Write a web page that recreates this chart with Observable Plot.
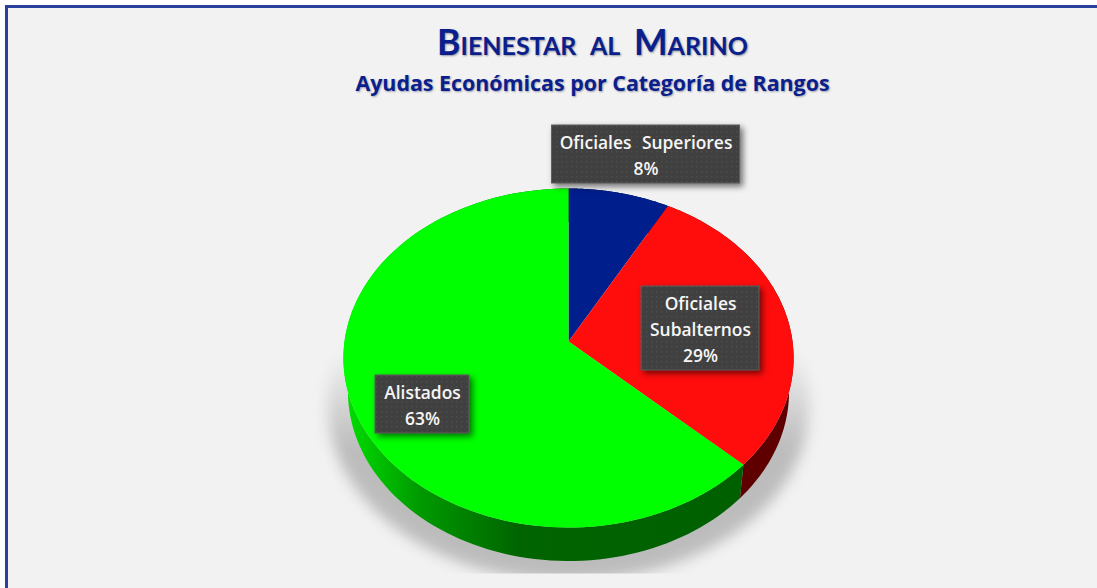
<!DOCTYPE html>
<html lang="es">
<head>
<meta charset="utf-8">
<script src="https://cdn.jsdelivr.net/npm/d3@7"></script>
<script src="https://cdn.jsdelivr.net/npm/@observablehq/plot@0.6"></script>
<style>
  html, body { margin: 0; padding: 0; background: #fff; }
  #page { position: relative; width: 1097px; height: 588px; overflow: hidden; }
  #panel { position: absolute; left: 5px; top: 5px; width: 1100px; height: 600px; box-sizing: border-box;
           background: #f2f2f2; border: 3px solid #2b3f9f; }
  #chart { position: absolute; left: 0; top: 0; }
  #chart svg { background: transparent; display: block; }
  .title { position: absolute; left: 0; width: 1185px; text-align: center; color: #0b1f8c; white-space: nowrap; }
  #t1 { top: 22px; font: 700 35.6px/40px Lato, sans-serif; font-variant: small-caps; word-spacing: 5px;
        text-shadow: 1px 1px 2px rgba(0,0,40,.4); }
  #t2 { top: 69px; font: 700 21.4px/28px "Open Sans", sans-serif; text-shadow: 1px 1px 2px rgba(0,0,40,.35); }
</style>
</head>
<body>
<div id="page">
  <div id="panel"></div>
  <div class="title" id="t1">Bienestar al Marino</div>
  <div class="title" id="t2">Ayudas Económicas por Categoría de Rangos</div>
  <div id="chart"></div>
</div>
<script>
// Data
const categories = ["Oficiales Superiores", "Oficiales Subalternos", "Alistados"];
const shares = [8, 29, 63];
const labelLines = ["Oficiales Superiores\n8%", "Oficiales\nSubalternos\n29%", "Alistados\n63%"];

// Styles
const topColors = ["#001e8c", "#ff0d0d", "#00ff00"];
const wallColors = ["#000f46", "#5e0000", "url(#wallGreen)"];

// Layout: pie view (perspective of a flat disc), in pixels from the pie's apex
const view = { R: 224, S: 167.9, k: 0.0973, depth: 33.5, bottomScale: 0.98 };
const labelBoxes = [
  { cx: 77.5, cy: -187, w: 188, h: 58 },
  { cx: 132, cy: -13, w: 118, h: 84 },
  { cx: -146, cy: 63, w: 94, h: 58 }
];

function project(angleDeg, radius = 1) {
  const a = angleDeg * Math.PI / 180;
  const u = radius * Math.sin(a), v = -radius * Math.cos(a);
  const d = 1 - view.k * v;
  return [view.R * u / d, view.S * v / d];
}
const total = d3.sum(shares);
let acc = 0;
const spans = shares.map((s, i) => {
  const start = acc / total * 360;
  acc += s;
  return { name: categories[i], start, end: acc / total * 360 };
});
const arcAngles = (a, b) => d3.range(0, 121).map(i => a + (b - a) * i / 120);

const faces = spans.flatMap(s => {
  const rim = arcAngles(s.start, s.end).map(t => project(t));
  return [[0, 0], ...rim].map(([x, y]) => ({ name: s.name, x, y }));
});
const walls = spans.map(s => {
  const top = arcAngles(s.start, s.end).map(t => project(t));
  const bottom = top.slice().reverse().map(([x, y]) => [x * view.bottomScale, y + view.depth]);
  return [...top, ...bottom].map(([x, y]) => ({ name: s.name, x, y }));
});
const shadowRing = arcAngles(0, 360).map(t => {
  const [x, y] = project(t);
  return { x: x * 1.07, y: y * 1.03 + 48 };
});

const defs = () => {
  const g = document.createElementNS("http://www.w3.org/2000/svg", "g");
  g.innerHTML = `<defs>
    <linearGradient id="wallGreen" x1="0" x2="1" y1="0" y2="0">
      <stop offset="0" stop-color="#00e000"/><stop offset=".19" stop-color="#009a00"/>
      <stop offset=".31" stop-color="#008000"/><stop offset=".44" stop-color="#006400"/>
      <stop offset="1" stop-color="#006000"/>
    </linearGradient>
    <linearGradient id="shadowFade" x1="0" x2="0" y1="0" y2="1">
      <stop offset=".34" stop-color="#bcbcbc" stop-opacity="0"/>
      <stop offset=".62" stop-color="#bcbcbc" stop-opacity="1"/>
      <stop offset="1" stop-color="#bcbcbc" stop-opacity="1"/>
    </linearGradient>
    <clipPath id="shadowClip"><rect x="0" y="0" width="1097" height="573"/></clipPath>
    <pattern id="dots" width="5" height="5" patternUnits="userSpaceOnUse">
      <rect width="5" height="5" fill="#404040"/><rect x="1" y="1" width="1.4" height="1.4" fill="#4e4e4e"/>
    </pattern>
  </defs>`;
  return g;
};
const withStyle = (filter, clip, wordSpacing) => (index, scales, values, dims, ctx, next) => {
  const g = next(index, scales, values, dims, ctx);
  if (filter) g.style.filter = filter;
  if (clip) g.setAttribute("clip-path", clip);
  if (wordSpacing) g.style.wordSpacing = wordSpacing;
  return g;
};

const plot = Plot.plot({
  width: 1097, height: 588,
  margin: 0,
  x: { domain: [-568, 529], range: [0, 1097], axis: null },
  y: { domain: [-341, 247], range: [0, 588], axis: null },
  color: { domain: categories, range: topColors },
  style: { background: "transparent", overflow: "visible" },
  marks: [
    defs,
    Plot.line(shadowRing, { x: "x", y: "y", fill: "url(#shadowFade)", stroke: "none",
      render: withStyle("blur(7px)", "url(#shadowClip)") }),
    ...walls.map((w, i) => Plot.line(w, { x: "x", y: "y", fill: wallColors[i], stroke: "none" })),
    Plot.line(faces, { x: "x", y: "y", z: "name", fill: "name", stroke: "none" }),
    Plot.rect(labelBoxes, {
      x1: d => d.cx - d.w / 2, x2: d => d.cx + d.w / 2,
      y1: d => d.cy - d.h / 2, y2: d => d.cy + d.h / 2,
      fill: "url(#dots)", stroke: "#5f5f5f", strokeWidth: 1,
      render: withStyle("drop-shadow(3px 3px 3px rgba(0,0,0,.55))")
    }),
    Plot.text(labelBoxes, {
      x: "cx", y: "cy", dy: -1, text: (d, i) => labelLines[i],
      fill: "#f6f6f6", fontFamily: "'Open Sans', sans-serif", fontWeight: 600,
      fontSize: 17.4, lineHeight: 26 / 17.4, textAnchor: "middle", frameAnchor: "middle",
      render: withStyle(null, null, "6px")
    })
  ]
});
document.getElementById("chart").appendChild(plot);
</script>
</body>
</html>
